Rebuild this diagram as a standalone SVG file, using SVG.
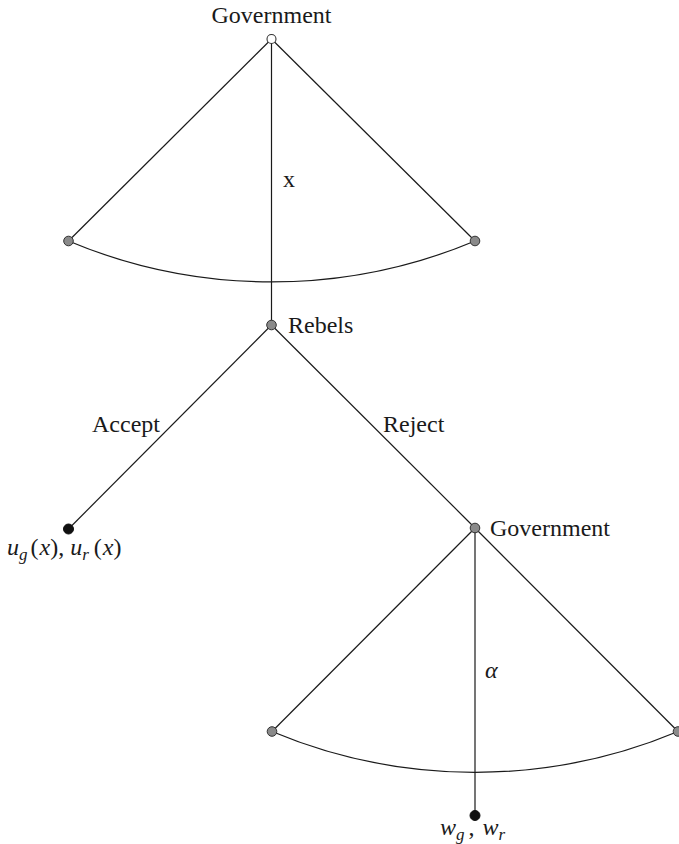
<svg xmlns="http://www.w3.org/2000/svg" width="679" height="844" viewBox="0 0 679 844">
<style>
.e{stroke:#1a1a1a;stroke-width:1.2;fill:none}
.n{fill:#8a8a8a;stroke:#333;stroke-width:1}
.o{fill:#fff;stroke:#333;stroke-width:1.1}
.t{fill:#111;stroke:#111;stroke-width:1}
text{font-family:"Liberation Serif","Times New Roman",serif;font-size:24px;fill:#1a1a1a}
.i{font-style:italic}
.s{font-size:17px;font-style:italic}
</style>
<g id="connectors">
<line class="e" x1="271.5" y1="39" x2="68.5" y2="241"/>
<line class="e" x1="271.5" y1="39" x2="475" y2="241"/>
<line class="e" x1="271.5" y1="39" x2="271.5" y2="325"/>
<path class="e" d="M68.5,241 A525 525 0 0 0 475,241"/>
<line class="e" x1="271.5" y1="325" x2="68.5" y2="529"/>
<line class="e" x1="271.5" y1="325" x2="475" y2="528"/>
<line class="e" x1="475" y1="528" x2="272" y2="731.5"/>
<line class="e" x1="475" y1="528" x2="678" y2="731.5"/>
<line class="e" x1="475" y1="528" x2="475" y2="815.5"/>
<path class="e" d="M272,731.5 A525 525 0 0 0 678,731.5"/>
<text x="283" y="187" font-family="Liberation Serif, serif">x</text>
<text x="92" y="432" font-family="Liberation Serif, serif">Accept</text>
<text x="383" y="432" font-family="Liberation Serif, serif">Reject</text>
<text x="485" y="678" class="i" font-family="Liberation Serif, serif">α</text>
</g>
<g id="gov1">
<circle class="o" cx="271.5" cy="39" r="4.5"/>
<text x="271.5" y="23" text-anchor="middle" font-family="Liberation Serif, serif">Government</text>
</g>
<g id="left1"><circle class="n" cx="68.5" cy="241" r="4.8"/></g>
<g id="right1"><circle class="n" cx="475" cy="241" r="4.8"/></g>
<g id="rebels">
<circle class="n" cx="271.5" cy="325" r="4.8"/>
<text x="288" y="333" font-family="Liberation Serif, serif">Rebels</text>
</g>
<g id="accept-leaf">
<circle class="t" cx="68.5" cy="529" r="5"/>
<text x="7" y="555" font-family="Liberation Serif, serif"><tspan class="i">u</tspan><tspan class="s" dy="5">g</tspan><tspan dy="-5" dx="3">(</tspan><tspan class="i" dx="1">x</tspan><tspan>), </tspan><tspan class="i">u</tspan><tspan class="s" dy="5">r</tspan><tspan dy="-5" dx="5">(</tspan><tspan class="i" dx="1">x</tspan><tspan>)</tspan></text>
</g>
<g id="gov2">
<circle class="n" cx="475" cy="528" r="4.8"/>
<text x="490" y="536" font-family="Liberation Serif, serif">Government</text>
</g>
<g id="left2"><circle class="n" cx="272" cy="731.5" r="4.8"/></g>
<g id="right2"><circle class="n" cx="678" cy="731.5" r="4.8"/></g>
<g id="reject-leaf">
<circle class="t" cx="475" cy="815.5" r="5"/>
<text x="440" y="835" font-family="Liberation Serif, serif"><tspan class="i">w</tspan><tspan class="s" dy="5">g</tspan><tspan dy="-5" dx="4">, </tspan><tspan class="i" dx="2">w</tspan><tspan class="s" dy="5">r</tspan></text>
</g>
</svg>
